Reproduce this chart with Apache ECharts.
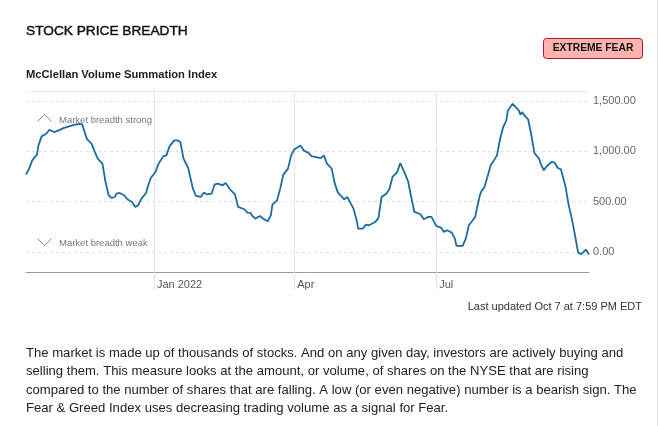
<!DOCTYPE html>
<html>
<head>
<meta charset="utf-8">
<script src="https://cdn.jsdelivr.net/npm/echarts@6/dist/echarts.min.js"></script>
<style>
html,body{margin:0;padding:0;background:#fff;}
#chart{width:659px;height:426px;}
</style>
</head>
<body>
<div id="chart"></div>
<script>
// ---- data ----
const dates = [
'2021-10-11','2021-10-13','2021-10-15','2021-10-18','2021-10-19','2021-10-21','2021-10-24','2021-10-26','2021-10-29',
'2021-11-01','2021-11-04','2021-11-08','2021-11-11','2021-11-14','2021-11-16','2021-11-19','2021-11-22','2021-11-24','2021-11-26','2021-11-29',
'2021-12-01','2021-12-03','2021-12-05','2021-12-07','2021-12-08','2021-12-10','2021-12-13','2021-12-15','2021-12-18','2021-12-20','2021-12-22','2021-12-24','2021-12-27','2021-12-28','2021-12-30',
'2022-01-02','2022-01-04','2022-01-07','2022-01-09','2022-01-11','2022-01-14','2022-01-16','2022-01-18','2022-01-20','2022-01-23','2022-01-26','2022-01-28','2022-01-31',
'2022-02-02','2022-02-04','2022-02-07','2022-02-09','2022-02-11','2022-02-14','2022-02-16','2022-02-19','2022-02-22','2022-02-24','2022-02-28',
'2022-03-02','2022-03-04','2022-03-05','2022-03-07','2022-03-10','2022-03-12','2022-03-15','2022-03-17','2022-03-18','2022-03-21','2022-03-23','2022-03-25','2022-03-28','2022-03-30',
'2022-04-01','2022-04-05','2022-04-07','2022-04-10','2022-04-12','2022-04-15','2022-04-18','2022-04-20','2022-04-22','2022-04-25','2022-04-27','2022-04-29',
'2022-05-01','2022-05-03','2022-05-05','2022-05-07','2022-05-09','2022-05-11','2022-05-12','2022-05-15','2022-05-17','2022-05-19','2022-05-20','2022-05-23','2022-05-25','2022-05-27','2022-05-30',
'2022-06-01','2022-06-03','2022-06-06','2022-06-08','2022-06-11','2022-06-13','2022-06-15','2022-06-17','2022-06-21','2022-06-23','2022-06-26','2022-06-28',
'2022-07-01','2022-07-04','2022-07-06','2022-07-08','2022-07-11','2022-07-13','2022-07-14','2022-07-18','2022-07-20','2022-07-22','2022-07-24','2022-07-26','2022-07-29','2022-07-30',
'2022-08-01','2022-08-05','2022-08-07','2022-08-09','2022-08-11','2022-08-13','2022-08-15','2022-08-16','2022-08-19','2022-08-21','2022-08-23','2022-08-24','2022-08-25','2022-08-27','2022-08-29','2022-08-31',
'2022-09-02','2022-09-05','2022-09-06','2022-09-08','2022-09-10','2022-09-13','2022-09-15','2022-09-17','2022-09-19','2022-09-22','2022-09-24','2022-09-26','2022-09-28','2022-09-30',
'2022-10-02','2022-10-03','2022-10-05','2022-10-06','2022-10-07'
];
const values = [
768,828,910,967,1059,1149,1175,1215,1192,
1208,1231,1251,1264,1274,1268,1125,1076,1000,927,877,
695,563,536,546,579,586,563,523,497,447,465,530,586,645,735,
794,877,950,960,1049,1109,1109,1092,927,834,629,556,546,
589,573,579,672,679,662,685,619,573,447,424,
391,387,360,331,357,331,305,364,470,513,629,768,828,960,
1019,1059,1010,986,953,943,933,960,877,828,679,589,
556,523,546,487,430,314,232,232,271,265,271,298,338,546,579,
622,745,794,884,778,702,546,397,374,324,348,348,
258,242,199,215,192,132,60,60,132,265,305,348,563,602,
645,861,910,960,1125,1241,1307,1407,1473,1440,1407,1364,1390,1350,1317,1165,
983,927,877,811,854,894,887,834,821,645,463,331,166,-7,
-23,-33,23,0,-26
];
const xTickDates = ['2022-01-01','2022-04-01','2022-07-01'];
const xTickLabels = ['Jan 2022','Apr','Jul'];
const yTicks = [0, 500, 1000, 1500];
const xRange = ['2021-10-11','2022-10-07'];
const yRange = [-200, 1600];

const titleText = 'STOCK PRICE BREADTH';
const subtitleText = 'McClellan Volume Summation Index';
const badgeText = 'EXTREME FEAR';
const strongText = 'Market breadth strong';
const weakText = 'Market breadth weak';
const updatedText = 'Last updated Oct 7 at 7:59 PM EDT';
const paragraphLines = [
 'The market is made up of thousands of stocks. And on any given day, investors are actively buying and',
 'selling them. This measure looks at the amount, or volume, of shares on the NYSE that are rising',
 'compared to the number of shares that are falling. A low (or even negative) number is a bearish sign. The',
 'Fear & Greed Index uses decreasing trading volume as a signal for Fear.'
];

// ---- build ----
function toTs(s){ const p = s.split('-').map(Number); return Date.UTC(p[0], p[1]-1, p[2]); }
const seriesData = dates.map((d,i)=>[toTs(d), values[i]]);
const xTickTs = xTickDates.map(toTs);
function fmtNum(v){
  const neg = v < 0; v = Math.abs(v);
  const parts = v.toFixed(2).split('.');
  parts[0] = parts[0].replace(/\B(?=(\d{3})+(?!\d))/g, ',');
  return (neg?'-':'') + parts.join('.');
}
const FONT = '"Liberation Sans", Arial, Helvetica, sans-serif';

const chart = echarts.init(document.getElementById('chart'), null, {renderer:'canvas'});
const graphics = [
  {type:'text', style:{text:titleText, x:26, y:31, font:'13.7px '+FONT, fill:'#111', stroke:'#111', lineWidth:0.45, align:'left', verticalAlign:'middle'}},
  {type:'text', style:{text:subtitleText, x:26, y:75, font:'bold 11.2px '+FONT, fill:'#222', align:'left', verticalAlign:'middle'}},
  {type:'rect', shape:{x:543.5, y:38.5, width:99, height:20, r:3}, style:{fill:'#ffb4b0', stroke:'#b3132e', lineWidth:1}},
  {type:'text', style:{text:badgeText, x:593, y:48.5, font:'bold 10.3px '+FONT, fill:'#111', align:'center', verticalAlign:'middle'}},
  {type:'polyline', shape:{points:[[37.5,121.5],[44.5,114.5],[51.5,121.5]]}, style:{stroke:'#888', lineWidth:1, fill:null}},
  {type:'text', style:{text:strongText, x:59, y:120, font:'9.5px '+FONT, fill:'#777', align:'left', verticalAlign:'middle'}},
  {type:'polyline', shape:{points:[[37.5,238.5],[44.5,245.5],[51.5,238.5]]}, style:{stroke:'#888', lineWidth:1, fill:null}},
  {type:'text', style:{text:weakText, x:59, y:243, font:'9.5px '+FONT, fill:'#777', align:'left', verticalAlign:'middle'}},
  {type:'text', style:{text:updatedText, x:642, y:306.5, font:'11px '+FONT, fill:'#333', align:'right', verticalAlign:'middle'}},
  {type:'line', shape:{x1:657.5, y1:0, x2:657.5, y2:426}, style:{stroke:'#e6e6e6', lineWidth:1}}
];
const paraY = [353, 371.5, 390, 408.5];
paragraphLines.forEach((t,i)=>{
  graphics.push({type:'text', style:{text:t, x:26, y:paraY[i], font:'13.1px '+FONT, fill:'#222', align:'left', verticalAlign:'middle'}});
});

chart.setOption({
  animation:false,
  backgroundColor:'#fff',
  grid:{left:26, right:70, top:91, bottom:154, containLabel:false},
  xAxis:[{
    type:'value',
    min:toTs(xRange[0]), max:toTs(xRange[1]),
    axisLine:{show:true, onZero:false, lineStyle:{color:'#9a9a9a', width:1}},
    axisTick:{show:true, customValues:xTickTs, length:18, lineStyle:{color:'#e4e4e4', width:1}},
    axisLabel:{show:true, customValues:xTickTs, align:'left', padding:[0,0,0,3], margin:7, fontSize:11, fontFamily:FONT, color:'#555',
      formatter:function(v){ const i = xTickTs.indexOf(v); return i>=0 ? xTickLabels[i] : ''; }},
    splitLine:{show:true, lineStyle:{color:'#e4e4e4', width:1, type:'solid'}}
  },{
    type:'value', position:'top', min:0, max:1,
    axisLine:{show:true, onZero:false, lineStyle:{color:'#ececec', width:1}},
    axisTick:{show:false}, axisLabel:{show:false}, splitLine:{show:false}
  }],
  yAxis:{
    type:'value', position:'right', min:yRange[0], max:yRange[1],
    axisLine:{show:false},
    axisTick:{show:false, customValues:yTicks},
    axisLabel:{show:true, customValues:yTicks, margin:4, fontSize:11, fontFamily:FONT, color:'#666', formatter:fmtNum},
    splitLine:{show:true, lineStyle:{color:'#e2e2e2', width:1, type:[3,3]}}
  },
  series:[{
    type:'line', xAxisIndex:0, data:seriesData, showSymbol:false, smooth:false,
    lineStyle:{color:'#1a6d9e', width:1.8}, itemStyle:{color:'#1a6d9e'}
  }],
  graphic:graphics
});
</script>
</body>
</html>
